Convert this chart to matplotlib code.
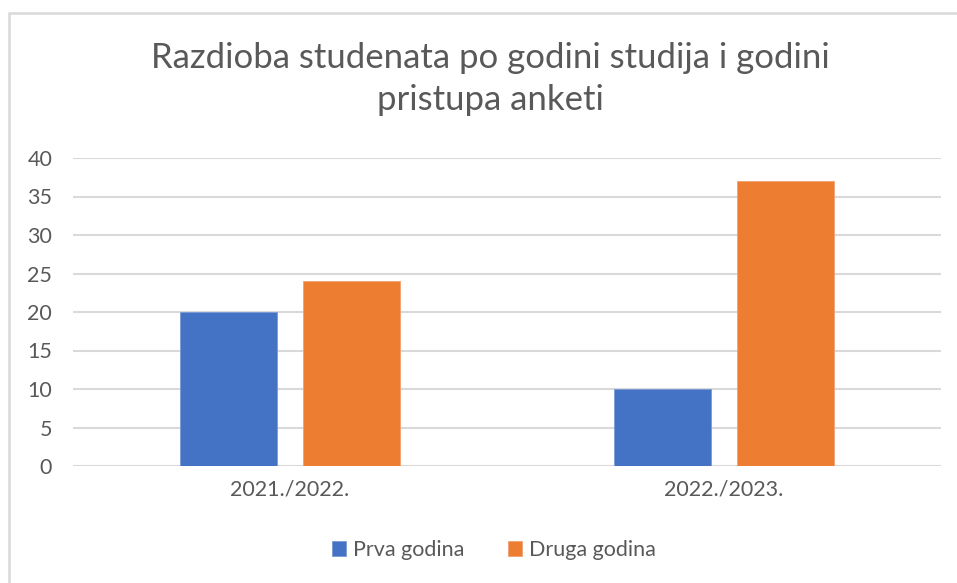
import matplotlib
matplotlib.use("Agg")
import matplotlib.pyplot as plt
import numpy as np
from matplotlib.patches import Rectangle

categories = ["2021./2022.", "2022./2023."]
series_names = ["Prva godina", "Druga godina"]
prva = [20, 10]
druga = [24, 37]
yticks = [0, 5, 10, 15, 20, 25, 30, 35, 40]
title = "Razdioba studenata po godini studija i godini\npristupa anketi"

colors = ["#4472C4", "#ED7D31"]
text_color = "#595959"
grid_color = "#D9D9D9"

plt.rcParams['font.family'] = ['Lato', 'DejaVu Sans']

fig = plt.figure(figsize=(9.57, 5.83), dpi=100)
fig.patch.set_facecolor("white")
ax = fig.add_axes([73/957, 1-466/583, (941-73)/957, (466-158)/583])

x = np.arange(len(categories))
w = 0.2235
off = 0.1417
ax.bar(x - off, prva, width=w, color=colors[0], edgecolor="#7A9BD6", linewidth=0.6,
       label=series_names[0], zorder=3)
ax.bar(x + off, druga, width=w, color=colors[1], edgecolor="#F2A271", linewidth=0.6,
       label=series_names[1], zorder=3)

ax.set_xlim(-0.5, len(categories) - 0.5)
ax.set_ylim(0, 40)
ax.set_yticks(yticks)
ax.set_xticks(x)
ax.set_xticklabels(categories)
for s in ax.spines.values():
    s.set_visible(False)
ax.yaxis.grid(True, color=grid_color, linewidth=1.5, zorder=0)
ax.set_axisbelow(True)
ax.tick_params(axis="both", length=0, colors=text_color, labelsize=15.5)
ax.tick_params(axis="y", pad=15)
ax.tick_params(axis="x", pad=10)

fig.text(490/957, 1-79/583, title, ha="center", va="center", fontsize=25,
         color=text_color, linespacing=1.38)

leg = fig.legend(loc="center", bbox_to_anchor=(494/957, 1-550/583), ncol=2, frameon=False,
                 fontsize=15.5, handlelength=0.65, handleheight=0.65, handletextpad=0.35,
                 columnspacing=2.0, labelcolor=text_color)

fig.patches.append(Rectangle((9/957, -0.05), 1.1, 1-13/583+0.05, transform=fig.transFigure,
                             fill=False, edgecolor=grid_color, linewidth=1.8))

fig.savefig("out.png", dpi=100, facecolor="white")
